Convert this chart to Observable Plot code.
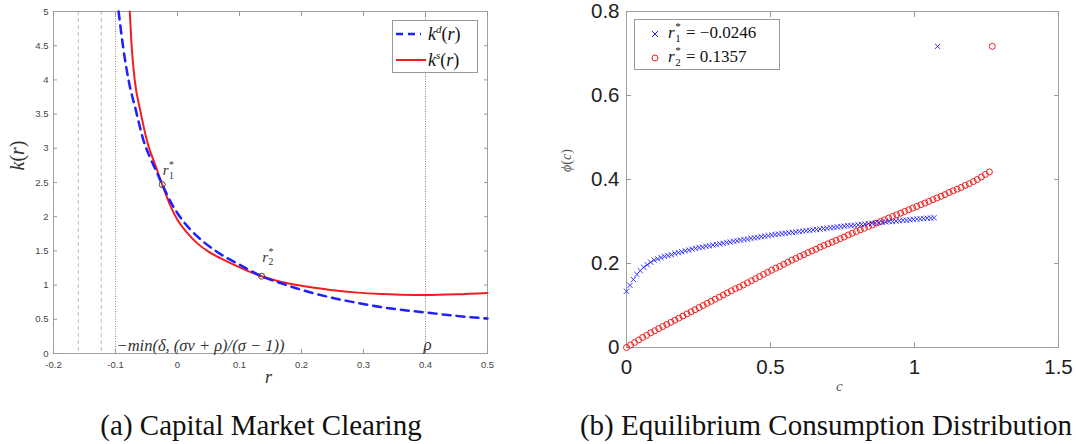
<!DOCTYPE html>
<html><head><meta charset="utf-8">
<script src="https://cdn.jsdelivr.net/npm/d3@7"></script>
<script src="https://cdn.jsdelivr.net/npm/@observablehq/plot@0.6"></script>
<style>
html,body{margin:0;padding:0;background:#fff;}
#root{position:relative;width:1076px;height:444px;overflow:hidden;background:#fff;}
.abs{position:absolute;white-space:nowrap;}
.serif{font-family:"Liberation Serif","DejaVu Serif",serif;}
.it{font-style:italic;}
.ss{position:relative;display:inline-block;width:0.42em;height:0;vertical-align:baseline;}
.ss .u,.ss .d{position:absolute;left:0.05em;font-size:0.65em;line-height:1;font-style:normal;}
.ss .u{bottom:0.5em;}
.ss .d{top:-0.45em;}
.cap{font-family:"Liberation Serif",serif;font-size:29px;color:#111;line-height:32px;}
.legend{position:absolute;background:#fff;border:1px solid #999;box-sizing:border-box;}
</style></head><body><div id="root"></div>
<script>
// ---------- (a) Capital market clearing ----------
const xTicksA = [-0.2,-0.1,0,0.1,0.2,0.3,0.4,0.5];
const yTicksA = [0,0.5,1,1.5,2,2.5,3,3.5,4,4.5,5];
const kdR = [-0.095,-0.088,-0.079,-0.067,-0.055,-0.045,-0.035,-0.0246,-0.010,0.000,0.020,0.045,0.060,0.081,0.100,0.120,0.1357,0.166,0.193,0.220,0.247,0.290,0.327,0.360,0.400,0.450,0.500];
const kdK = [5.00,4.50,4.00,3.55,3.12,2.88,2.68,2.47,2.20,2.05,1.82,1.61,1.51,1.39,1.30,1.20,1.13,1.03,0.95,0.88,0.82,0.74,0.68,0.64,0.60,0.55,0.51];
const ksR = [-0.077,-0.074,-0.069,-0.060,-0.048,-0.036,-0.0246,-0.011,0.000,0.015,0.032,0.050,0.070,0.0855,0.110,0.1357,0.166,0.200,0.247,0.290,0.327,0.360,0.400,0.450,0.500];
const ksK = [5.00,4.50,4.00,3.55,3.07,2.76,2.47,2.15,1.95,1.77,1.61,1.49,1.39,1.32,1.22,1.13,1.05,0.99,0.93,0.89,0.87,0.86,0.855,0.865,0.885];
const rStar = [-0.0246, 0.1357];
const kStar = [2.47, 1.13];
const boundDashed = [-0.16, -0.123];
const boundDotted = [-0.1, 0.4];
const boundLabels = ["\u2212min(\u03b4, (\u03c3\u03bd + \u03c1)/(\u03c3 \u2212 1))", "\u03c1"];

// ---------- (b) Equilibrium consumption distribution ----------
const xTicksB = [0,0.5,1,1.5];
const yTicksB = [0,0.2,0.4,0.6,0.8];
const cBlue = [0,0.012,0.024,0.036,0.048,0.06,0.072,0.084,0.096,0.108,0.12,0.132,0.144,0.156,0.168,0.18,0.192,0.204,0.216,0.228,0.24,0.252,0.264,0.276,0.288,0.3,0.312,0.324,0.336,0.348,0.36,0.372,0.384,0.396,0.408,0.42,0.432,0.444,0.456,0.468,0.48,0.492,0.504,0.516,0.528,0.54,0.552,0.564,0.576,0.588,0.6,0.612,0.624,0.636,0.648,0.66,0.672,0.684,0.696,0.708,0.72,0.732,0.744,0.756,0.768,0.78,0.792,0.804,0.816,0.828,0.84,0.852,0.864,0.876,0.888,0.9,0.912,0.924,0.936,0.948,0.96,0.972,0.984,0.996,1.008,1.02,1.032,1.044,1.056,1.068,1.08];
const phiBlue = [0.134,0.148,0.162,0.174,0.183,0.191,0.197,0.203,0.208,0.211,0.214,0.217,0.219,0.221,0.224,0.226,0.228,0.230,0.232,0.234,0.236,0.238,0.239,0.241,0.242,0.244,0.245,0.247,0.248,0.250,0.251,0.253,0.254,0.256,0.257,0.258,0.260,0.261,0.262,0.264,0.265,0.266,0.268,0.269,0.270,0.271,0.272,0.273,0.274,0.275,0.276,0.277,0.278,0.279,0.280,0.281,0.282,0.283,0.284,0.285,0.286,0.287,0.288,0.289,0.290,0.290,0.291,0.292,0.293,0.294,0.295,0.296,0.297,0.297,0.298,0.299,0.300,0.300,0.301,0.302,0.303,0.303,0.304,0.305,0.306,0.306,0.307,0.308,0.308,0.309,0.717];
const cRed = [0,0.014,0.028,0.042,0.056,0.07,0.084,0.098,0.112,0.126,0.14,0.154,0.168,0.182,0.196,0.21,0.224,0.238,0.252,0.266,0.28,0.294,0.308,0.322,0.336,0.35,0.364,0.378,0.392,0.406,0.42,0.434,0.448,0.462,0.476,0.49,0.504,0.518,0.532,0.546,0.56,0.574,0.588,0.602,0.616,0.63,0.644,0.658,0.672,0.686,0.7,0.714,0.728,0.742,0.756,0.77,0.784,0.798,0.812,0.826,0.84,0.854,0.868,0.882,0.896,0.91,0.924,0.938,0.952,0.966,0.98,0.994,1.008,1.022,1.036,1.05,1.064,1.078,1.092,1.106,1.12,1.134,1.148,1.162,1.176,1.19,1.204,1.218,1.232,1.246,1.26,1.27];
const phiRed = [0,0.006,0.012,0.018,0.024,0.029,0.035,0.040,0.045,0.050,0.055,0.060,0.065,0.070,0.075,0.080,0.085,0.090,0.095,0.100,0.105,0.110,0.115,0.120,0.125,0.130,0.135,0.140,0.144,0.149,0.154,0.159,0.164,0.169,0.174,0.179,0.184,0.189,0.193,0.198,0.203,0.208,0.212,0.217,0.221,0.226,0.230,0.234,0.239,0.243,0.247,0.251,0.255,0.259,0.263,0.268,0.272,0.276,0.280,0.284,0.288,0.292,0.296,0.300,0.304,0.308,0.312,0.316,0.320,0.324,0.328,0.332,0.336,0.340,0.344,0.348,0.352,0.356,0.360,0.364,0.369,0.373,0.377,0.381,0.386,0.390,0.395,0.400,0.406,0.412,0.418,0.717];

const BLUE = "#1f1fff", RED = "#f01e1e";
const root = document.getElementById("root");
function place(el, left, top){ el.style.position="absolute"; el.style.left=left+"px"; el.style.top=top+"px"; root.appendChild(el); return el; }
function html(cls, inner, left, top, extra){ const d=document.createElement("div"); d.className="abs "+cls; d.innerHTML=inner; if(extra) Object.assign(d.style, extra); return place(d,left,top); }
function dropEmpty(svg){ d3.select(svg).selectAll("text").filter(function(){return this.textContent==="";}).remove(); }

const kd = kdR.map((r,i)=>({r, k: kdK[i]}));
const ks = ksR.map((r,i)=>({r, k: ksK[i]}));
const stars = rStar.map((r,i)=>({r, k: kStar[i]}));
const dotted = boundDotted.map((r,i)=>({r, k: 0, t: boundLabels[i]}));

const blank = () => "";
const plotA = Plot.plot({
  width: 510, height: 400,
  marginLeft: 53, marginRight: 23, marginTop: 11, marginBottom: 47,
  x: {domain: [-0.2, 0.5]},
  y: {domain: [0, 5]},
  style: {fontFamily: "'Liberation Sans', Arial, sans-serif", fontSize: "9.5px", background: "white", overflow: "visible"},
  marks: [
    Plot.ruleX(boundDashed, {stroke: "#bbb", strokeDasharray: "4,3", strokeWidth: 1}),
    Plot.ruleX(boundDotted, {stroke: "#888", strokeDasharray: "1,1.5", strokeWidth: 1}),
    Plot.frame({stroke: "#a0a0a0"}),
    Plot.axisX(xTicksA, {tickSize: -4, tickPadding: 12, stroke: "#999", fill: "#444", label: null, tickFormat: d => String(d)}),
    Plot.axisX(xTicksA, {anchor: "top", tickSize: -4, tickPadding: 0, stroke: "#999", label: null, tickFormat: blank}),
    Plot.axisY(yTicksA, {tickSize: -4, tickPadding: 9, stroke: "#999", fill: "#444", label: null, tickFormat: d => String(d)}),
    Plot.axisY(yTicksA, {anchor: "right", tickSize: -4, tickPadding: 0, stroke: "#999", label: null, tickFormat: blank}),
    Plot.line(ks, {x: "r", y: "k", stroke: RED, strokeWidth: 2, curve: "monotone-x"}),
    Plot.line(kd, {x: "r", y: "k", stroke: BLUE, strokeWidth: 2.5, strokeDasharray: "8,6", curve: "monotone-x"}),
    Plot.dot(stars, {x: "r", y: "k", r: 3, stroke: "#444", fill: "none", strokeWidth: 1}),
    Plot.text(dotted.slice(0,1), {x: "r", y: "k", text: "t", textAnchor: "start", lineAnchor: "bottom", dx: 1, dy: -3, fontFamily: "'Liberation Serif', serif", fontStyle: "italic", fontSize: 16.5, fill: "#333"}),
    Plot.text(dotted.slice(1), {x: "r", y: "k", text: "t", textAnchor: "start", lineAnchor: "bottom", dx: -2, dy: -4, fontFamily: "'Liberation Serif', serif", fontStyle: "italic", fontSize: 17, fill: "#333"})
  ]
});
dropEmpty(plotA);
place(plotA, 0, 0);

const blue = cBlue.map((c,i)=>({c, phi: phiBlue[i]}));
const red = cRed.map((c,i)=>({c, phi: phiRed[i]}));
const plotB = Plot.plot({
  width: 536, height: 400,
  marginLeft: 86, marginRight: 18, marginTop: 11, marginBottom: 53,
  x: {domain: [0, 1.5]},
  y: {domain: [0, 0.8]},
  style: {fontFamily: "'Liberation Sans', Arial, sans-serif", fontSize: "20.5px", background: "white", overflow: "visible"},
  marks: [
    Plot.frame({stroke: "#a0a0a0"}),
    Plot.axisX(xTicksB, {tickSize: -5, tickPadding: 17, stroke: "#999", fill: "#222", label: null, tickFormat: d => String(d)}),
    Plot.axisX(xTicksB, {anchor: "top", tickSize: -5, tickPadding: 0, stroke: "#999", label: null, tickFormat: blank}),
    Plot.axisY(yTicksB, {tickSize: -5, tickPadding: 12, stroke: "#999", fill: "#222", label: null, tickFormat: d => String(d)}),
    Plot.axisY(yTicksB, {anchor: "right", tickSize: -5, tickPadding: 0, stroke: "#999", label: null, tickFormat: blank}),
    Plot.dot(red, {x: "c", y: "phi", r: 3, symbol: "circle", stroke: RED, fill: "none", strokeWidth: 1}),
    Plot.dot(blue, {x: "c", y: "phi", r: 2.5, symbol: "times", stroke: BLUE, strokeWidth: 0.9})
  ]
});
dropEmpty(plotB);
place(plotB, 540, 0);

// annotations on (a) positioned through the scales
const starLab = (n) => `<i>r</i><span class="ss"><span class="u">*</span><span class="d">${n}</span></span>`;
const sxA = plotA.scale("x"), syA = plotA.scale("y");
html("serif", starLab(1), sxA.apply(rStar[0]) + 1, syA.apply(kStar[0]) - 22, {fontSize: "15px", color: "#333"});
html("serif", starLab(2), sxA.apply(rStar[1]) + 1, syA.apply(kStar[1]) - 27, {fontSize: "15px", color: "#333"});

// axis labels
html("serif", "<i>r</i>", 265, 367, {fontSize: "18px", color: "#333"});
html("serif", "<i>k</i>(<i>r</i>)", 21, 182, {fontSize: "20px", color: "#333", transform: "translate(-50%,-50%) rotate(-90deg)", transformOrigin: "0 0"});
html("serif", "<i>c</i>", 836, 378, {fontSize: "15px", color: "#555"});
html("serif", "<i>\u03d5</i>(<i>c</i>)", 570, 180, {fontSize: "14px", color: "#555", transform: "translate(-50%,-50%) rotate(-90deg)", transformOrigin: "0 0"});

// legends
const legA = document.createElement("div"); legA.className = "legend";
Object.assign(legA.style, {width: "86px", height: "53px"});
legA.innerHTML = `<svg width="86" height="53" style="position:absolute;left:0;top:0">
<line x1="3" x2="28" y1="13" y2="13" stroke="${BLUE}" stroke-width="2.5" stroke-dasharray="7,5"/>
<line x1="3" x2="33" y1="39" y2="39" stroke="${RED}" stroke-width="2"/></svg>
<div class="abs serif" style="left:35px;top:2px;font-size:18px;color:#111"><i>k</i><sup style="font-size:11px"><i>d</i></sup>(<i>r</i>)</div>
<div class="abs serif" style="left:35px;top:28px;font-size:18px;color:#111"><i>k</i><sup style="font-size:11px"><i>s</i></sup>(<i>r</i>)</div>`;
place(legA, 392, 20);

const legB = document.createElement("div"); legB.className = "legend";
Object.assign(legB.style, {width: "146px", height: "51px"});
legB.innerHTML = `<svg width="146" height="51" style="position:absolute;left:0;top:0">
<path d="M17,11 L23,17 M23,11 L17,17" stroke="${BLUE}" stroke-width="1"/>
<circle cx="20" cy="38" r="3" stroke="${RED}" fill="none" stroke-width="1"/></svg>
<div class="abs serif" style="left:33px;top:3px;font-size:17px;color:#111">${starLab(1)} = \u22120.0246</div>
<div class="abs serif" style="left:33px;top:27px;font-size:17px;color:#111">${starLab(2)} = 0.1357</div>`;
place(legB, 634, 19);

// captions
html("cap", "(a) Capital Market Clearing", 261, 409, {transform: "translateX(-50%)"});
html("cap", "(b) Equilibrium Consumption Distribution", 826, 409, {transform: "translateX(-50%)"});
</script></body></html>
